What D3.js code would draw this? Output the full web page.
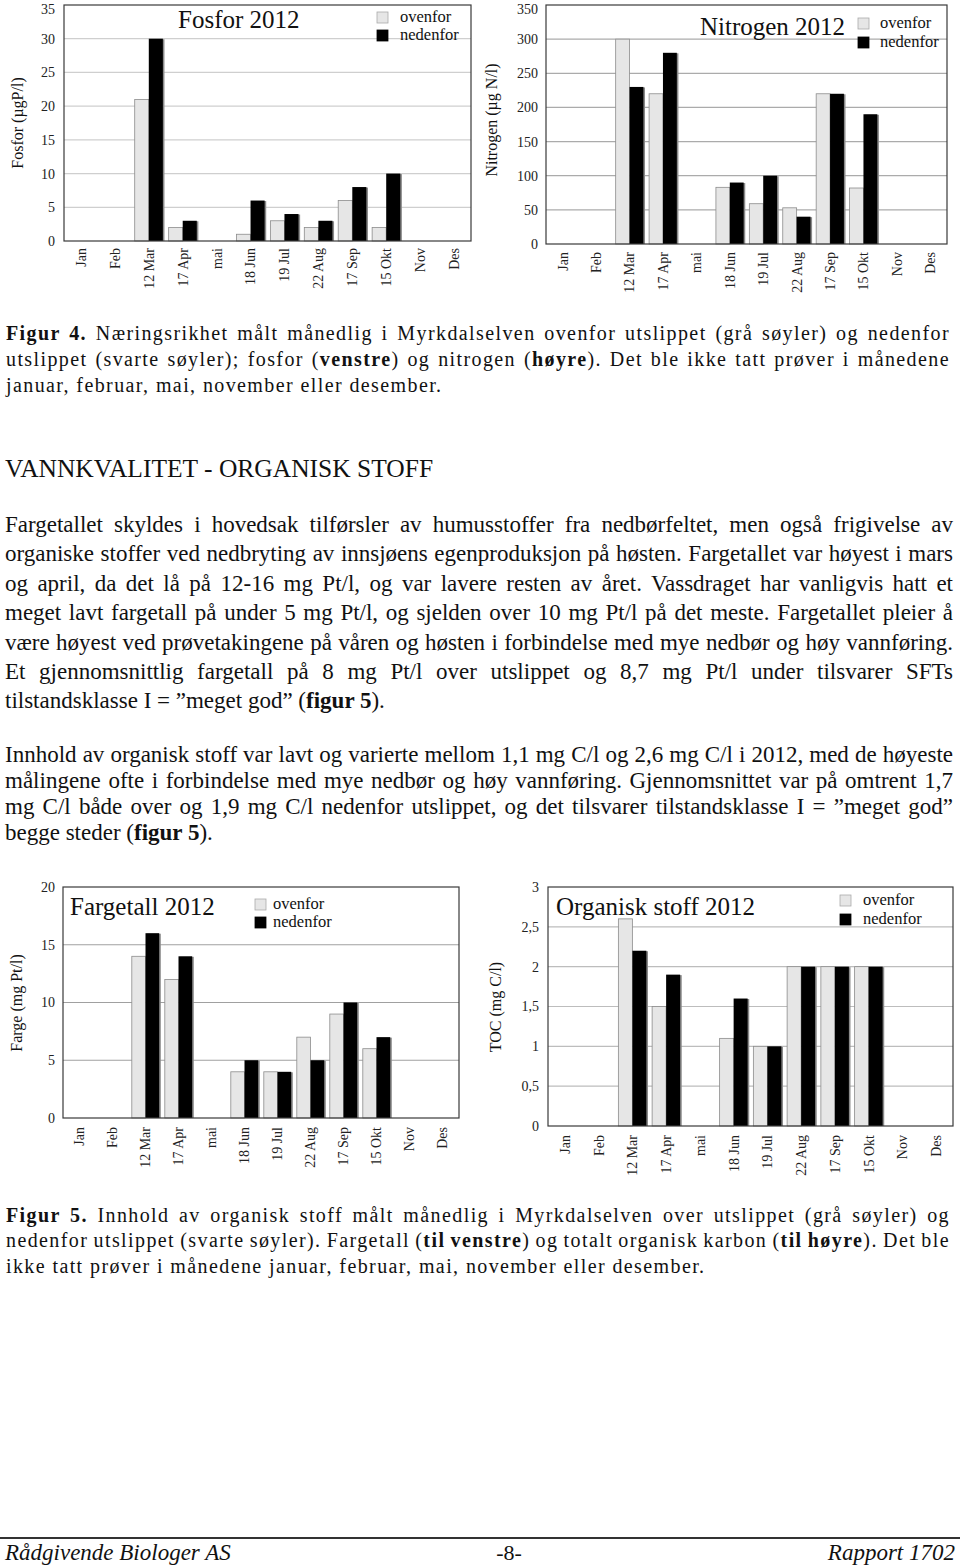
<!DOCTYPE html>
<html>
<head>
<meta charset="utf-8">
<script src="https://cdn.jsdelivr.net/npm/d3@7"></script>
<style>
  html, body { margin: 0; padding: 0; background: #fff; }
  svg { display: block; }
</style>
</head>
<body>
<script>
// ---------- DATA ----------
const categories = ["Jan", "Feb", "12 Mar", "17 Apr", "mai", "18 Jun", "19 Jul", "22 Aug", "17 Sep", "15 Okt", "Nov", "Des"];
const seriesNames = ["ovenfor", "nedenfor"];

const fosforOvenfor  = [null, null, 21, 2, null, 1, 3, 2, 6, 2, null, null];
const fosforNedenfor = [null, null, 30, 3, null, 6, 4, 3, 8, 10, null, null];

const nitrogenOvenfor  = [null, null, 300, 220, null, 83, 59, 53, 220, 82, null, null];
const nitrogenNedenfor = [null, null, 230, 280, null, 90, 100, 40, 220, 190, null, null];

const fargeOvenfor  = [null, null, 14, 12, null, 4, 4, 7, 9, 6, null, null];
const fargeNedenfor = [null, null, 16, 14, null, 5, 4, 5, 10, 7, null, null];

const tocOvenfor  = [null, null, 2.6, 1.5, null, 1.1, 1.0, 2.0, 2.0, 2.0, null, null];
const tocNedenfor = [null, null, 2.2, 1.9, null, 1.6, 1.0, 2.0, 2.0, 2.0, null, null];

const fosforTicks   = [0, 5, 10, 15, 20, 25, 30, 35];
const nitrogenTicks = [0, 50, 100, 150, 200, 250, 300, 350];
const fargeTicks    = [0, 5, 10, 15, 20];
const tocTicks      = [0, 0.5, 1, 1.5, 2, 2.5, 3];

// ---------- TEXT ----------
const fig4Caption = [
  "**Figur 4.** Næringsrikhet målt månedlig i Myrkdalselven ovenfor utslippet (grå søyler) og nedenfor",
  "utslippet (svarte søyler); fosfor (**venstre**) og nitrogen (**høyre**). Det ble ikke tatt prøver i månedene",
  "januar, februar, mai, november eller desember."
];
const heading = "VANNKVALITET - ORGANISK STOFF";
const para1 = [
  "Fargetallet skyldes i hovedsak tilførsler av humusstoffer fra nedbørfeltet, men også frigivelse av",
  "organiske stoffer ved nedbryting av innsjøens egenproduksjon på høsten. Fargetallet var høyest i mars",
  "og april, da det lå på 12-16 mg Pt/l, og var lavere resten av året. Vassdraget har vanligvis hatt et",
  "meget lavt fargetall på under 5 mg Pt/l, og sjelden over 10 mg Pt/l på det meste. Fargetallet pleier å",
  "være høyest ved prøvetakingene på våren og høsten i forbindelse med mye nedbør og høy vannføring.",
  "Et gjennomsnittlig fargetall på 8 mg Pt/l over utslippet og 8,7 mg Pt/l under tilsvarer SFTs",
  "tilstandsklasse I = ”meget god” (**figur 5**)."
];
const para2 = [
  "Innhold av organisk stoff var lavt og varierte mellom 1,1 mg C/l og 2,6 mg C/l i 2012, med de høyeste",
  "målingene ofte i forbindelse med mye nedbør og høy vannføring. Gjennomsnittet var på omtrent 1,7",
  "mg C/l både over og 1,9 mg C/l nedenfor utslippet, og det tilsvarer tilstandsklasse I = ”meget god”",
  "begge steder (**figur 5**)."
];
const fig5Caption = [
  "**Figur 5.** Innhold av organisk stoff målt månedlig i Myrkdalselven over utslippet (grå søyler) og",
  "nedenfor utslippet (svarte søyler). Fargetall (**til venstre**) og totalt organisk karbon (**til høyre**). Det ble",
  "ikke tatt prøver i månedene januar, februar, mai, november eller desember."
];
const footer = ["Rådgivende Biologer AS", "-8-", "Rapport 1702"];

// ---------- DRAW ----------
const SERIF = "'Liberation Serif', 'Times New Roman', serif";
const W = 960, H = 1568;
const svg = d3.select("body").append("svg").attr("width", W).attr("height", H)
  .style("font-family", SERIF);

function drawChart(cfg) {
  const g = svg.append("g");
  const x = d3.scaleBand().domain(categories).range([cfg.left, cfg.right])
    .paddingInner(0.17).paddingOuter(0.085);
  const xs = d3.scaleBand().domain(seriesNames).range([0, x.bandwidth()]);
  const yMax = cfg.ticks[cfg.ticks.length - 1];
  const y = d3.scaleLinear().domain([0, yMax]).range([cfg.bottom, cfg.top]);

  // gridlines
  g.selectAll("line.grid").data(cfg.ticks.slice(1, -1)).join("line")
    .attr("x1", cfg.left).attr("x2", cfg.right)
    .attr("y1", d => y(d)).attr("y2", d => y(d))
    .attr("stroke", cfg.gridColor).attr("stroke-width", 1.2);

  const rows = categories.map((c, i) => ({ c, vals: [cfg.s1[i], cfg.s2[i]] }));
  const cat = g.selectAll("g.cat").data(rows).join("g")
    .attr("transform", d => `translate(${x(d.c)},0)`);

  // ovenfor (grey)
  cat.filter(d => d.vals[0] != null).append("rect")
    .attr("x", xs("ovenfor")).attr("width", xs.bandwidth())
    .attr("y", d => y(d.vals[0])).attr("height", d => y(0) - y(d.vals[0]))
    .attr("fill", "#e6e6e6").attr("stroke", "#8c8c8c").attr("stroke-width", 0.8);
  // nedenfor shadow + black
  const ned = cat.filter(d => d.vals[1] != null);
  ned.append("rect")
    .attr("x", xs("nedenfor") + 1.6).attr("width", xs.bandwidth())
    .attr("y", d => y(d.vals[1]) + 0.5).attr("height", d => y(0) - y(d.vals[1]) - 0.5)
    .attr("fill", "#8a8a8a");
  ned.append("rect")
    .attr("x", xs("nedenfor")).attr("width", xs.bandwidth())
    .attr("y", d => y(d.vals[1])).attr("height", d => y(0) - y(d.vals[1]))
    .attr("fill", "#000");

  // frame
  g.append("rect").attr("x", cfg.left).attr("y", cfg.top)
    .attr("width", cfg.right - cfg.left).attr("height", cfg.bottom - cfg.top)
    .attr("fill", "none").attr("stroke", "#3a3a3a").attr("stroke-width", 1.2);

  // y axis
  const ya = g.append("g").attr("transform", `translate(${cfg.left},0)`)
    .call(d3.axisLeft(y).tickValues(cfg.ticks).tickSize(0).tickPadding(cfg.yPad).tickFormat(cfg.fmt));
  ya.select(".domain").remove();
  ya.selectAll("text").style("font-family", SERIF).style("font-size", "14px").attr("fill", "#222");
  if (cfg.top < 10) {
    ya.selectAll(".tick").filter(d => d === yMax).select("text").attr("dy", "0.6em");
  }

  // x axis
  const xa = g.append("g").attr("transform", `translate(0,${cfg.bottom})`)
    .call(d3.axisBottom(x).tickSize(0));
  xa.select(".domain").remove();
  xa.selectAll("text")
    .attr("transform", "rotate(-90)")
    .attr("x", -(cfg.xLabelTop - cfg.bottom)).attr("y", 0).attr("dy", "0.35em")
    .style("text-anchor", "end")
    .style("font-family", SERIF).style("font-size", "14px").attr("fill", "#222");

  // title
  g.append("text").attr("x", cfg.titleX).attr("y", cfg.titleY)
    .style("font-size", "25px").attr("fill", "#111").text(cfg.title);

  // legend
  seriesNames.forEach((s, i) => {
    const sy = cfg.legY[i];
    g.append("rect").attr("x", cfg.legX).attr("y", sy).attr("width", 11).attr("height", 11)
      .attr("fill", i === 0 ? "#e6e6e6" : "#000")
      .attr("stroke", i === 0 ? "#aaa" : "#000").attr("stroke-width", 0.8);
    g.append("text").attr("x", cfg.legTextX).attr("y", sy + 9.5)
      .style("font-size", "16.5px").attr("fill", "#111").text(s);
  });

  // y label
  g.append("text")
    .attr("transform", `translate(${cfg.yLabX},${cfg.yLabY}) rotate(-90)`)
    .style("text-anchor", "middle").style("font-size", "16px").attr("fill", "#111")
    .text(cfg.yLabel);
}

const fmtComma = d => String(d).replace(".", ",");

drawChart({
  left: 64, right: 471, top: 5, bottom: 241, ticks: fosforTicks, fmt: d => d, yPad: 9,
  s1: fosforOvenfor, s2: fosforNedenfor, gridColor: "#cfcfcf",
  xLabelTop: 248, title: "Fosfor 2012", titleX: 178, titleY: 28,
  legX: 377, legY: [12, 30], legTextX: 400,
  yLabel: "Fosfor (µgP/l)", yLabX: 23, yLabY: 123
});
drawChart({
  left: 546, right: 947, top: 5, bottom: 244, ticks: nitrogenTicks, fmt: d => d, yPad: 8,
  s1: nitrogenOvenfor, s2: nitrogenNedenfor, gridColor: "#ababab",
  xLabelTop: 252, title: "Nitrogen 2012", titleX: 700, titleY: 35,
  legX: 858, legY: [18, 37], legTextX: 880,
  yLabel: "Nitrogen (µg N/l)", yLabX: 497, yLabY: 120
});
drawChart({
  left: 63, right: 459, top: 887, bottom: 1118, ticks: fargeTicks, fmt: d => d, yPad: 8,
  s1: fargeOvenfor, s2: fargeNedenfor, gridColor: "#a0a0a0",
  xLabelTop: 1127, title: "Fargetall 2012", titleX: 70, titleY: 915,
  legX: 255, legY: [899, 917], legTextX: 273,
  yLabel: "Farge (mg Pt/l)", yLabX: 22, yLabY: 1003
});
drawChart({
  left: 548, right: 953, top: 887, bottom: 1126, ticks: tocTicks, fmt: fmtComma, yPad: 9,
  s1: tocOvenfor, s2: tocNedenfor, gridColor: "#bdbdbd",
  xLabelTop: 1135, title: "Organisk stoff 2012", titleX: 556, titleY: 915,
  legX: 840, legY: [895, 914], legTextX: 863,
  yLabel: "TOC (mg C/l)", yLabX: 501, yLabY: 1007
});

// ---------- text blocks ----------
function textLine(str, x, y, width, opts) {
  const t = svg.append("text").attr("x", x).attr("y", y)
    .style("font-size", opts.size + "px").attr("fill", "#111")
    .attr("xml:space", "preserve");
  if (opts.ls) t.style("letter-spacing", opts.ls + "px");
  if (opts.italic) t.style("font-style", "italic");
  if (opts.anchor) t.style("text-anchor", opts.anchor);
  str.split("**").forEach((p, i) => {
    if (!p) return;
    t.append("tspan").text(p).style("font-weight", i % 2 ? "bold" : "normal");
  });
  if (opts.justify) {
    const len = t.node().getComputedTextLength();
    const spaces = (str.match(/ /g) || []).length;
    if (spaces > 0) t.style("word-spacing", ((width - len) / spaces) + "px");
  }
  return t;
}
function block(lines, x, y0, dy, width, opts) {
  lines.forEach((l, i) => textLine(l, x, y0 + i * dy, width,
    Object.assign({}, opts, { justify: i < lines.length - 1 })));
}

block(fig4Caption, 6, 339.5, 26.2, 944, { size: 20, ls: 1.4 });
textLine(heading, 5, 477, 0, { size: 25.5 });
block(para1, 5, 532, 29.4, 948, { size: 23 });
block(para2, 5, 761.5, 26.2, 948, { size: 23 });
block(fig5Caption, 6, 1221.5, 25.9, 944, { size: 20, ls: 1.4 });

// footer
svg.append("line").attr("x1", 0).attr("x2", W).attr("y1", 1538).attr("y2", 1538)
  .attr("stroke", "#333").attr("stroke-width", 2);
textLine(footer[0], 5, 1560, 0, { size: 23, italic: true });
textLine(footer[1], 509, 1560, 0, { size: 22, anchor: "middle" });
textLine(footer[2], 955, 1560, 0, { size: 23, italic: true, anchor: "end" });
</script>
</body>
</html>
